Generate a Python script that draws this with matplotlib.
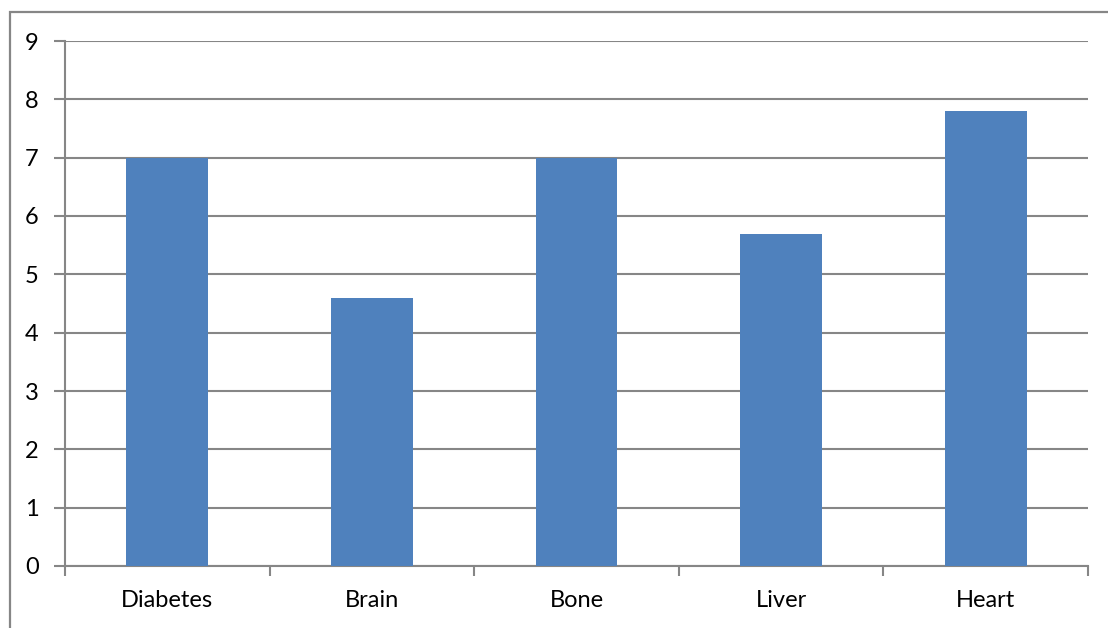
import matplotlib.pyplot as plt
from matplotlib.patches import Rectangle

categories = ['Diabetes', 'Brain', 'Bone', 'Liver', 'Heart']
values = [7, 4.6, 7, 5.7, 7.8]
y_ticks = [0, 1, 2, 3, 4, 5, 6, 7, 8, 9]

bar_color = '#4F81BD'
line_color = '#868686'

plt.rcParams['font.family'] = ['Lato', 'DejaVu Sans']

fig = plt.figure(figsize=(11.08, 6.28), dpi=100)
ax = fig.add_axes([65 / 1108, 1 - 566 / 628, (1088 - 65) / 1108, (566 - 41) / 628])

# outer chart border (only top and left edges fall inside the image)
fig.patches.append(Rectangle((10 / 1108, -0.1), 1.2, 1 - 12 / 628 + 0.1,
                             transform=fig.transFigure, fill=False,
                             edgecolor=line_color, linewidth=1.6))

x = range(len(categories))
ax.bar(x, values, width=0.4, color=bar_color, zorder=3)

ax.set_xlim(-0.5, len(categories) - 0.5)
ax.set_ylim(0, 9)
ax.set_yticks(y_ticks)
ax.set_yticklabels([str(t) for t in y_ticks])
ax.yaxis.grid(True, color=line_color, linewidth=1.5, zorder=0)

# category boundaries carry the tick marks, labels sit at the centres
ax.set_xticks([i - 0.5 for i in range(len(categories) + 1)])
ax.set_xticklabels([])
ax.set_xticks(list(x), minor=True)
ax.set_xticklabels(categories, minor=True)
ax.tick_params(axis='x', which='minor', length=0, pad=17, labelsize=17)
ax.tick_params(axis='x', which='major', length=7, width=1.5, color=line_color)
ax.tick_params(axis='y', length=8, width=1.5, color=line_color, pad=11, labelsize=17)

for side in ['top', 'right']:
    ax.spines[side].set_visible(False)
for side in ['left', 'bottom']:
    ax.spines[side].set_color(line_color)
    ax.spines[side].set_linewidth(1.5)

fig.savefig('out.png', dpi=100)
